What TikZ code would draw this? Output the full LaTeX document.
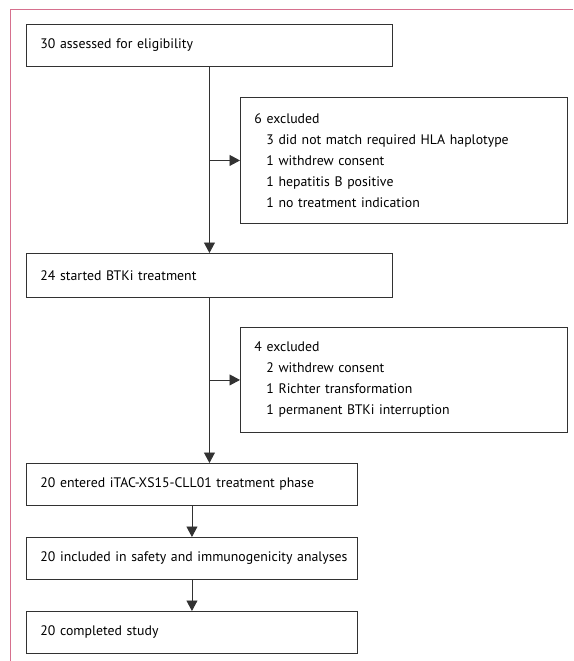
\documentclass[tikz,border=0pt]{standalone}
\usepackage{xcolor}
\usepackage{fontspec}
\setmainfont{PT Sans}
\usepackage{tikz}
\usetikzlibrary{arrows.meta}

\definecolor{framepink}{RGB}{214,112,142}
\definecolor{boxline}{RGB}{50,50,50}

\begin{document}
\begin{tikzpicture}[x=1pt,y=-1pt,
    box/.style={draw=boxline, line width=0.9pt, anchor=north west, inner xsep=14pt, inner ysep=0pt,
        align=left, font=\fontsize{13.8}{21}\selectfont},
    arr/.style={draw=boxline, line width=0.9pt, -{Triangle[length=10.5pt,width=11pt]}}]
    \useasboundingbox (0,0) rectangle (573,661);
    \draw[framepink, line width=1.5pt] (10.5,661) -- (10.5,9.5) -- (573,9.5);

    \node[box, minimum width=366pt, minimum height=42pt, text width=338pt] (assessed) at (26,24) {30 assessed for eligibility};
    \node[box, minimum width=327pt, minimum height=126pt, text width=299pt] (excl1) at (240,97)
        {6 excluded\\
         \hspace*{12pt}3 did not match required HLA haplotype\\
         \hspace*{12pt}1 withdrew consent\\
         \hspace*{12pt}1 hepatitis B positive\\
         \hspace*{12pt}1 no treatment indication};
    \node[box, minimum width=366pt, minimum height=44pt, text width=338pt] (started) at (26,253) {24 started BTKi treatment};
    \node[box, minimum width=327pt, minimum height=105pt, text width=299pt] (excl2) at (240,327)
        {4 excluded\\
         \hspace*{12pt}2 withdrew consent\\
         \hspace*{12pt}1 Richter transformation\\
         \hspace*{12pt}1 permanent BTKi interruption};
    \node[box, minimum width=331pt, minimum height=42pt, text width=303pt] (entered) at (26,463) {20 entered iTAC-XS15-CLL01 treatment phase};
    \node[box, minimum width=331pt, minimum height=42pt, text width=303pt] (included) at (26,537) {\mbox{20 included in safety and immunogenicity analyses}};
    \node[box, minimum width=331pt, minimum height=42pt, text width=303pt] (completed) at (26,611) {20 completed study};

    \draw[arr] (assessed.south) -- (started.north);
    \draw[arr] (assessed.south |- excl1.west) -- (excl1.west);
    \draw[arr] (started.south) -- (started.south |- entered.north);
    \draw[arr] (started.south |- excl2.west) -- (excl2.west);
    \draw[arr] (entered) -- (included);
    \draw[arr] (included) -- (completed);
\end{tikzpicture}
\end{document}
